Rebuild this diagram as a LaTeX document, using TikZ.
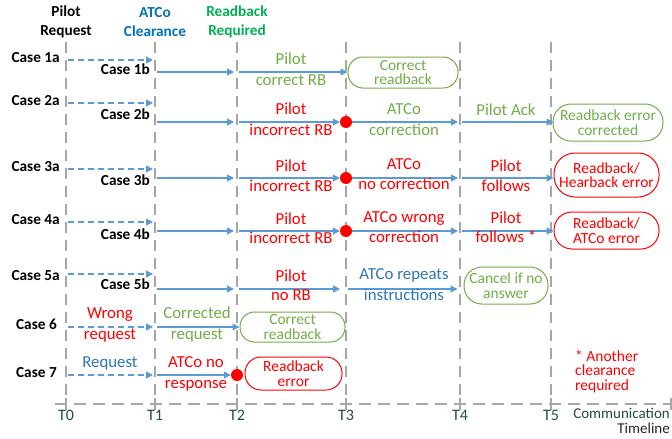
\documentclass[tikz,border=0pt]{standalone}
\usepackage{fontspec}
\setmainfont{Carlito}
\usetikzlibrary{arrows.meta}
\definecolor{arrblue}{HTML}{5B9BD5}
\definecolor{txtblue}{HTML}{2E75B6}
\definecolor{hdrblue}{HTML}{0070C0}
\definecolor{hdrgreen}{HTML}{00B050}
\definecolor{okgreen}{HTML}{70AD47}
\definecolor{errred}{HTML}{FF0000}
\definecolor{grid}{HTML}{A6A6A6}
\definecolor{tgreen}{HTML}{1F4E3D}
\begin{document}
\begin{tikzpicture}[x=1pt,y=-1pt,
  every node/.style={inner sep=0pt, font=\fontsize{16.8}{17}\selectfont},
  hdr/.style={font=\fontsize{15.3}{19}\selectfont\bfseries, align=center},
  lbl/.style={font=\fontsize{15.3}{16}\selectfont\bfseries, anchor=mid east},
  txt/.style={anchor=mid},
  vline/.style={grid, line width=1.6pt, dash pattern=on 11pt off 7pt},
  tline/.style={grid, line width=1.6pt, dash pattern=on 12pt off 7pt},
  arr/.style={arrblue, line width=1.2pt, -{Triangle[length=7pt,width=7pt]}},
  darr/.style={arr, dash pattern=on 6pt off 4pt},
  rbox/.style={rectangle, line width=1pt, align=center, font=\fontsize{15.5}{14.5}\selectfont},
  okbox/.style={rbox, draw=okgreen, text=okgreen},
  errbox/.style={rbox, draw=errred, text=errred},
  dot/.style={circle, fill=errred, minimum size=12pt}
]
\useasboundingbox (0,0) rectangle (672,439);
% grid
\foreach \t/\x in {0/66,1/155,2/237,3/346,4/460,5/551}{
  \coordinate (top\t) at (\x,42);
  \coordinate (bot\t) at (\x,404);
  \draw[vline] (top\t) -- (bot\t);
  \draw[grid, line width=1.6pt] ([yshift=-6pt]bot\t) -- ([yshift=6pt]bot\t);
  \node[text=tgreen, anchor=mid, font=\fontsize{16}{16}\selectfont] (T\t) at (\x,418) {T\t};
}
\coordinate (tl0) at (55,404);
\coordinate (tl1) at (671,404);
\draw[tline] (tl0) -- (tl1);
\draw[grid, line width=1.6pt] ([yshift=-6pt]tl1) -- ([yshift=6pt]tl1);
\node[text=tgreen, anchor=mid east, font=\fontsize{15}{15}\selectfont] (comm) at (670,416.5) {Communication};
\node[text=black!85, anchor=mid east, font=\fontsize{15}{15}\selectfont] (timel) at (670,431.5) {Timeline};
% headers
\node[hdr] (h0) at (66,22) {Pilot\\Request};
\node[hdr, text=hdrblue] (h1) at (155,22) {ATCo\\Clearance};
\node[hdr, text=hdrgreen] (h2) at (237,22) {Readback\\Required};
% row coordinates
\foreach \r/\y in {1a/60,1b/72,2a/103,2b/122,3a/169,3b/178,4a/222,4b/231,5a/274,5b/289,6/327,7/375}{
  \foreach \t/\x in {0/66,1/155,2/237,3/346,4/460,5/551}{
    \coordinate (\r-\t) at (\x,\y);
  }
}
% row labels
\node[lbl] (c1a) at (60,60) {Case 1a};
\node[lbl] (c1b) at (150,72) {Case 1b};
\node[lbl] (c2a) at (60,103) {Case 2a};
\node[lbl] (c2b) at (150,117) {Case 2b};
\node[lbl] (c3a) at (60,169) {Case 3a};
\node[lbl] (c3b) at (150,183) {Case 3b};
\node[lbl] (c4a) at (60,222) {Case 4a};
\node[lbl] (c4b) at (150,237) {Case 4b};
\node[lbl] (c5a) at (60,278) {Case 5a};
\node[lbl] (c5b) at (150,287) {Case 5b};
\node[lbl] (c6) at (57,327) {Case 6};
\node[lbl] (c7) at (57,375) {Case 7};
% dashed request arrows
\foreach \r in {1a,2a,3a,4a,5a,6,7}{
  \draw[darr] ([xshift=2pt]\r-0) -- ([xshift=-2pt]\r-1);
}
% boxes and dots
\node[okbox, minimum width=110pt, minimum height=31pt, rounded corners=15pt] (b1) at (403,72.5) {Correct\\readback};
\node[okbox, minimum width=110pt, minimum height=37pt, rounded corners=18pt] (b2) at (608,122.5) {Readback error\\corrected};
\node[errbox, minimum width=105pt, minimum height=44pt, rounded corners=21pt] (b3) at (606.5,175) {Readback/\\Hearback error};
\node[errbox, minimum width=105pt, minimum height=37pt, rounded corners=18pt] (b4) at (606.5,230.5) {Readback/\\ATCo error};
\node[okbox, minimum width=84pt, minimum height=37pt, rounded corners=18pt] (b5) at (506,285.5) {Cancel if no\\answer};
\node[okbox, minimum width=105pt, minimum height=30pt, rounded corners=14.5pt] (b6) at (292.5,327) {Correct\\readback};
\node[errbox, minimum width=97pt, minimum height=33pt, rounded corners=16pt] (b7) at (293.5,373.5) {Readback\\error};
\node[dot] (d2) at (2b-3) {};
\node[dot] (d3) at (3b-3) {};
\node[dot] (d4) at (4b-3) {};
\node[dot] (d7) at (7-2) {};
% case 1b
\draw[arr] ([xshift=2pt]1b-1) -- ([xshift=-3pt]1b-2);
\draw[arr] ([xshift=2pt]1b-2) -- (b1.west |- 1b-2);
% case 2b
\draw[arr] ([xshift=2pt]2b-1) -- ([xshift=-3pt]2b-2);
\draw[arr] ([xshift=2pt]2b-2) -- (d2.west);
\draw[arr] (d2.east) -- ([xshift=-2pt]2b-4);
\draw[arr] ([xshift=2pt]2b-4) -- ([xshift=1pt]b2.west |- 2b-4);
% case 3b
\draw[arr] ([xshift=2pt]3b-1) -- ([xshift=-3pt]3b-2);
\draw[arr] ([xshift=2pt]3b-2) -- (d3.west);
\draw[arr] (d3.east) -- ([xshift=-2pt]3b-4);
\draw[arr] ([xshift=2pt]3b-4) -- (b3.west |- 3b-4);
% case 4b
\draw[arr] ([xshift=2pt]4b-1) -- ([xshift=-3pt]4b-2);
\draw[arr] ([xshift=2pt]4b-2) -- (d4.west);
\draw[arr] (d4.east) -- ([xshift=-2pt]4b-4);
\draw[arr] ([xshift=2pt]4b-4) -- (b4.west |- 4b-4);
% case 5b
\draw[arr] ([xshift=2pt]5b-1) -- ([xshift=-3pt]5b-2);
\draw[arr] ([xshift=2pt]5b-2) -- ([xshift=-6pt]5b-3);
\draw[arr] ([xshift=2pt]5b-3) -- ([xshift=-6pt]b5.west |- 5b-3);
% case 6, 7
\draw[arr] ([xshift=2pt]6-1) -- (b6.west |- 6-1);
\draw[arr] ([xshift=2pt]7-1) -- (d7.west);
% texts
\node[txt, text=okgreen] (p1a) at (291,62) {Pilot};
\node[txt, text=okgreen] (p1b) at (291,83) {correct RB};
\node[txt, text=errred] (p2a) at (291,112) {Pilot};
\node[txt, text=errred] (p2b) at (291,133) {incorrect RB};
\node[txt, text=okgreen] (q2a) at (404,112) {ATCo};
\node[txt, text=okgreen] (q2b) at (404,133) {correction};
\node[txt, text=okgreen] (r2a) at (506,113) {Pilot Ack};
\node[txt, text=errred] (p3a) at (291,169) {Pilot};
\node[txt, text=errred] (p3b) at (291,189) {incorrect RB};
\node[txt, text=errred] (q3a) at (404,167) {ATCo};
\node[txt, text=errred] (q3b) at (404,187) {no correction};
\node[txt, text=errred] (r3a) at (506,169) {Pilot};
\node[txt, text=errred] (r3b) at (506,189) {follows};
\node[txt, text=errred] (p4a) at (291,222) {Pilot};
\node[txt, text=errred] (p4b) at (291,241) {incorrect RB};
\node[txt, text=errred] (q4a) at (404,220) {ATCo wrong};
\node[txt, text=errred] (q4b) at (404,240) {correction};
\node[txt, text=errred] (r4a) at (506,221) {Pilot};
\node[txt, text=errred] (r4b) at (506,240) {follows *};
\node[txt, text=errred] (p5a) at (291,279) {Pilot};
\node[txt, text=errred] (p5b) at (291,298) {no RB};
\node[txt, text=txtblue] (q5a) at (404,277) {ATCo repeats};
\node[txt, text=txtblue] (q5b) at (404,298) {instructions};
\node[txt, text=errred] (w6a) at (110,316) {Wrong};
\node[txt, text=errred] (w6b) at (110,337) {request};
\node[txt, text=okgreen] (k6a) at (197,316) {Corrected};
\node[txt, text=okgreen] (k6b) at (197,337) {request};
\node[txt, text=txtblue] (w7a) at (110,365) {Request};
\node[txt, text=errred] (k7a) at (196,365) {ATCo no};
\node[txt, text=errred] (k7b) at (196,386) {response};
\node[text=errred, anchor=north west, align=left, font=\fontsize{15.5}{14.5}\selectfont] (note) at (575,350) {* Another\\clearance\\required};
\end{tikzpicture}
\end{document}
